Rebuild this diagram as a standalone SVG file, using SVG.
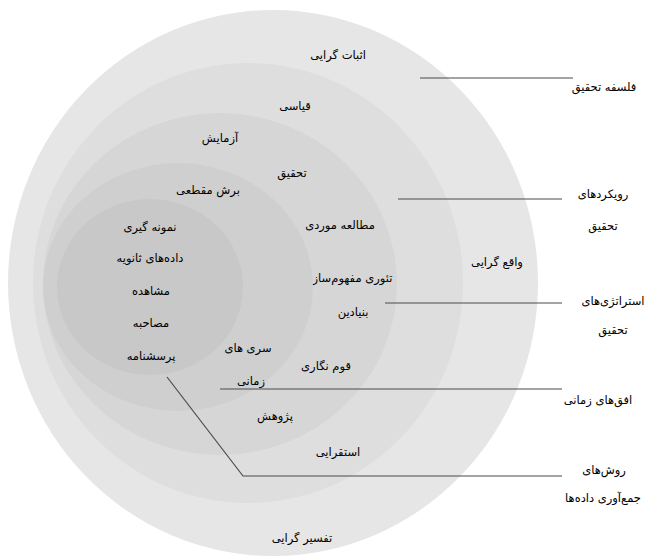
<svg xmlns="http://www.w3.org/2000/svg" width="648" height="558" viewBox="0 0 648 558">
<style>
text{font-family:"DejaVu Sans",sans-serif;font-size:11.5px;fill:#000;text-anchor:middle;direction:rtl}
.ln{stroke:#4a4a4a;stroke-width:1.2;fill:none}
</style>
<rect width="648" height="558" fill="#fff"/>
<g id="ring-philosophy">
<ellipse cx="273" cy="283" rx="265" ry="273" fill="#e6e6e6"/>
<text x="338" y="59">اثبات گرایی</text>
<text x="497" y="266">واقع گرایی</text>
<text x="302" y="542">تفسیر گرایی</text>
</g>
<g id="ring-approaches">
<ellipse cx="248" cy="283" rx="215" ry="220" fill="#dedede"/>
<text x="295" y="110">قیاسی</text>
<text x="338" y="456">استقرایی</text>
</g>
<g id="ring-strategies">
<ellipse cx="220" cy="284" rx="177" ry="171" fill="#d6d6d6"/>
<text x="220" y="142">آزمایش</text>
<text x="292" y="177">تحقیق</text>
<text x="340" y="229">مطالعه موردی</text>
<text x="348" y="282">تئوری مفهوم‌سازی</text>
<text x="353" y="316">بنیادین</text>
<text x="326" y="370">قوم نگاری</text>
<text x="275" y="420">پژوهش</text>
</g>
<g id="ring-time">
<ellipse cx="178" cy="287" rx="135" ry="124" fill="#cfcfcf"/>
<text x="208" y="194">برش مقطعی</text>
<text x="248" y="352">سری های</text>
<text x="251" y="385">زمانی</text>
</g>
<g id="ring-techniques">
<ellipse cx="150" cy="287" rx="93" ry="88" fill="#c8c8c8"/>
<text x="150" y="231">نمونه گیری</text>
<text x="150" y="262">داده‌های ثانویه</text>
<text x="151" y="295">مشاهده</text>
<text x="151" y="327">مصاحبه</text>
<text x="151" y="360">پرسشنامه</text>
</g>
<g id="connectors">
<line class="ln" x1="420" y1="78" x2="573" y2="78"/>
<line class="ln" x1="398" y1="199" x2="562" y2="199"/>
<line class="ln" x1="385" y1="303" x2="562" y2="303"/>
<line class="ln" x1="220" y1="389" x2="562" y2="389"/>
<polyline class="ln" points="167,377 243,476 562,476"/>
</g>
<g id="layer-labels">
<text x="604" y="91">فلسفه تحقیق</text>
<text x="603" y="198">رویکردهای</text>
<text x="603" y="230">تحقیق</text>
<text x="613" y="305">استراتژی‌های</text>
<text x="613" y="334">تحقیق</text>
<text x="598" y="404">افق‌های زمانی</text>
<text x="604" y="474">روش‌های</text>
<text x="603" y="502">جمع‌آوری داده‌ها</text>
</g>
</svg>
